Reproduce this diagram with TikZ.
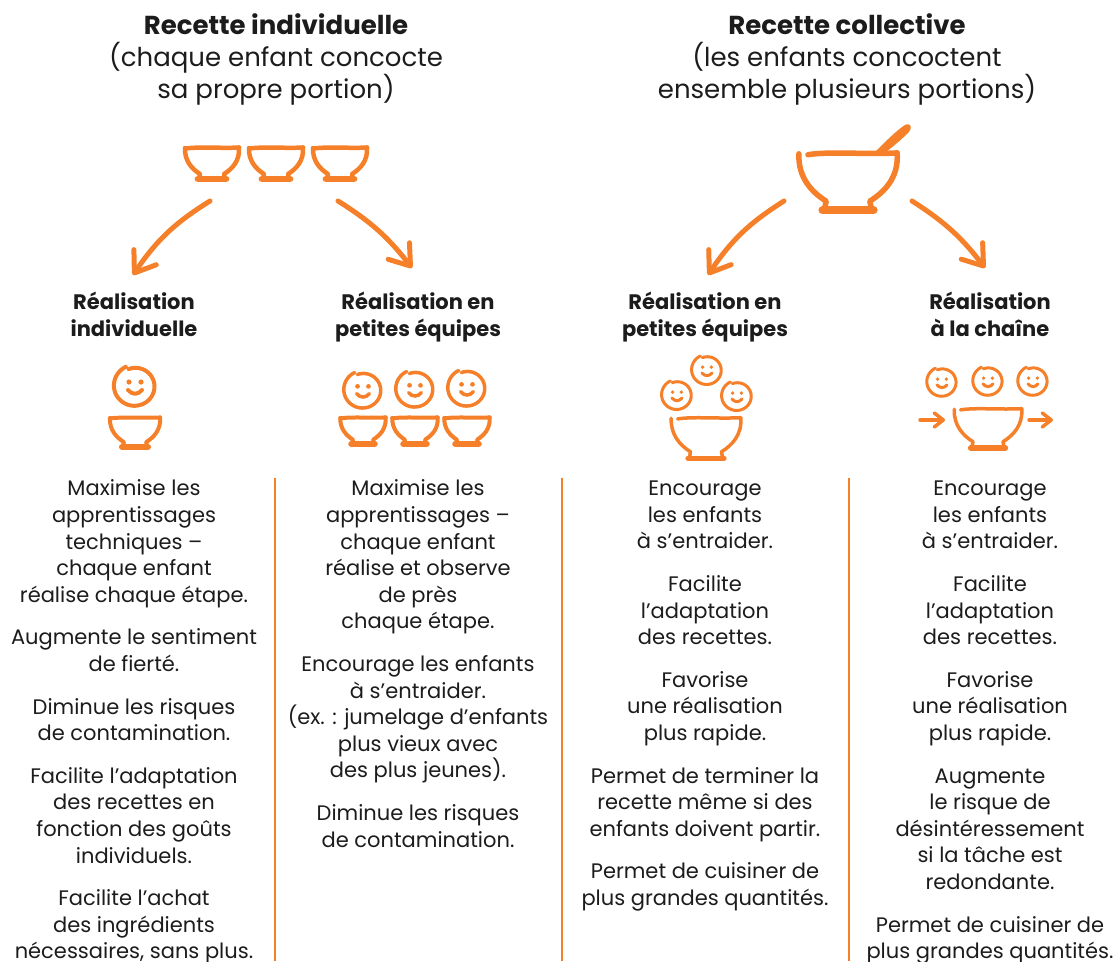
\documentclass[tikz,border=0pt]{standalone}
\usepackage{fontspec}
\usetikzlibrary{arrows.meta}
\setmainfont{Poppins}
\definecolor{corange}{HTML}{F58029}
\definecolor{ctext}{HTML}{1C1C1C}
\tikzstyle{sketch}  = [draw=corange, line cap=round, line join=round, line width=\penw]
\tikzstyle{curved}  = [draw=corange, line cap=round, line width=5pt, -{Straight Barb[length=19pt, width=27pt, line cap=round, round]}]
\tikzstyle{small}   = [draw=corange, line cap=round, line width=3.5pt, -{Straight Barb[length=9pt, width=14pt, line cap=round, round]}]
\tikzstyle{sepline} = [draw=corange, line width=2pt]
\tikzstyle{main}    = [inner sep=0pt, outer sep=0pt, text centered, align=center, text=ctext]
\tikzstyle{title}   = [main, anchor=base, font=\fontsize{26}{32}\selectfont]
\tikzstyle{btitle}  = [main, anchor=base, font=\fontsize{26}{32}\selectfont\bfseries]
\tikzstyle{subhead} = [main, anchor=base, font=\fontsize{21}{26.6}\selectfont\bfseries]
\tikzstyle{body}    = [main, anchor=north, font=\fontsize{21}{26.6}\selectfont]
\newcommand{\penw}{4.5pt}
\newcommand{\rimx}{-27}
\tikzset{
  pen/.code={\renewcommand{\penw}{#1}},
  rim/.code={\renewcommand{\rimx}{#1}},
  pics/bowl/.style={code={
    \draw[sketch] (\rimx,1.5) .. controls (-10,-0.5) and (10,1.5) .. (27,0.5);
    \draw[sketch] (-27,1) .. controls (-27.5,14) and (-20,22) .. (-12,27) -- (-13,32);
    \draw[sketch] (27,0.5) .. controls (28,14) and (20,22) .. (12,27) -- (13,32);
    \draw[sketch, line width=1.5*\penw] (-14,32) -- (14,32);
  }},
  pics/face/.style={code={
    \draw[sketch] plot[domain=250:605, samples=50, smooth] ({(18.5+(\x-250)*0.009)*cos(\x)},{(18+(\x-250)*0.009)*sin(\x)});
    \fill[corange] (-6,-4) circle[radius=2.6];
    \fill[corange] (6,-4) circle[radius=2.6];
    \draw[sketch] (-7,4) .. controls (-3,9) and (3,9) .. (7,4);
  }}
}
\begin{document}
\begin{tikzpicture}[x=1pt, y=-1pt]
  \useasboundingbox (0,0) rectangle (1115,961);

  \draw
    node[btitle] (titleA) at (276,34) {Recette individuelle}
    node[title] (titleAa) at (276,66) {(chaque enfant concocte}
    node[title] (titleAb) at (276,98) {sa propre portion)}
    node[btitle] (titleB) at (847,34) {Recette collective}
    node[title] (titleBa) at (847,66) {(les enfants concoctent}
    node[title] (titleBb) at (847,98) {ensemble plusieurs portions)};

  \draw
    node[subhead] (headA) at (134,336.5) {Réalisation\\individuelle}
    node[subhead] (headB) at (418,336.5) {Réalisation en\\petites équipes}
    node[subhead] (headC) at (705,336.5) {Réalisation en\\petites équipes}
    node[subhead] (headD) at (990,336.5) {Réalisation\\à la chaîne};

  \pic at (212,147) {bowl};
  \pic at (276,147) {bowl};
  \pic at (340,147) {bowl};
  \pic[scale=1.82, pen=5.5pt, rim=-22] at (848,152) {bowl};
  \fill[corange] (875,152) .. controls (885,142) and (897,130) .. (905,125)
    .. controls (911,122) and (913,128) .. (908,133) .. controls (900,141) and (892,147) .. (885,153) -- cycle;

  \coordinate (startA) at (210,201);
  \coordinate (endA) at (133,275);
  \coordinate (startB) at (338,201);
  \coordinate (endB) at (412,268);
  \coordinate (startC) at (784,201);
  \coordinate (endC) at (708,275);
  \coordinate (startD) at (912,201);
  \coordinate (endD) at (985,268);
  \draw[curved] (startA) to[bend right=12] (endA);
  \draw[curved] (startB) to[bend left=10] (endB);
  \draw[curved] (startC) to[bend right=12] (endC);
  \draw[curved] (startD) to[bend left=10] (endD);

  \pic[scale=1, pen=4pt] at (135,386) {face};
  \pic[scale=.93, pen=4pt] at (135,417) {bowl};

  \pic[scale=.91, pen=3.5pt] at (363,390) {face};
  \pic[scale=.91, pen=3.5pt] at (415,389) {face};
  \pic[scale=.91, pen=3.5pt] at (467,388) {face};
  \pic[scale=.84, pen=4pt] at (363,417) {bowl};
  \pic[scale=.84, pen=4pt] at (415,417) {bowl};
  \pic[scale=.84, pen=4pt] at (467,417) {bowl};

  \pic[scale=.73, pen=3pt] at (707,370) {face};
  \pic[scale=.73, pen=3pt] at (677,395) {face};
  \pic[scale=.73, pen=3pt] at (737,396) {face};
  \pic[scale=1.29, pen=3.5pt, rim=-22] at (706,417) {bowl};

  \pic[scale=.72, pen=3pt] at (942,382) {face};
  \pic[scale=.72, pen=3pt] at (988,381) {face};
  \pic[scale=.72, pen=3pt] at (1033,381) {face};
  \pic[scale=1.25, pen=3.5pt, rim=-22] at (988,408) {bowl};
  \coordinate (inL) at (920,420);
  \coordinate (inR) at (945,420);
  \coordinate (outL) at (1029,420);
  \coordinate (outR) at (1053,420);
  \draw[small] (inL) -- (inR);
  \draw[small] (outL) -- (outR);

  \coordinate (sepAa) at (275,478);
  \coordinate (sepAb) at (275,961);
  \coordinate (sepBa) at (562,478);
  \coordinate (sepBb) at (562,961);
  \coordinate (sepCa) at (849,478);
  \coordinate (sepCb) at (849,961);
  \draw[sepline] (sepAa) -- (sepAb);
  \draw[sepline] (sepBa) -- (sepBb);
  \draw[sepline] (sepCa) -- (sepCb);

  \draw
    node[body] (colA) at (134,480) {Maximise les\\apprentissages\\techniques –\\chaque enfant\\réalise chaque étape.\\[16pt]
      Augmente le sentiment\\de fierté.\\[16pt]
      Diminue les risques\\de contamination.\\[16pt]
      Facilite l’adaptation\\des recettes en\\fonction des goûts\\individuels.\\[16pt]
      Facilite l’achat\\des ingrédients\\nécessaires, sans plus.}
    node[body] (colB) at (418,480) {Maximise les\\apprentissages –\\chaque enfant\\réalise et observe\\de près\\chaque étape.\\[16pt]
      Encourage les enfants\\à s’entraider.\\(ex. : jumelage d’enfants\\plus vieux avec\\des plus jeunes).\\[16pt]
      Diminue les risques\\de contamination.}
    node[body] (colC) at (705,481) {Encourage\\les enfants\\à s’entraider.\\[16pt]
      Facilite\\l’adaptation\\des recettes.\\[16pt]
      Favorise\\une réalisation\\plus rapide.\\[16pt]
      Permet de terminer la\\recette même si des\\enfants doivent partir.\\[16pt]
      Permet de cuisiner de\\plus grandes quantités.}
    node[body] (colD) at (990,481) {Encourage\\les enfants\\à s’entraider.\\[16pt]
      Facilite\\l’adaptation\\des recettes.\\[16pt]
      Favorise\\une réalisation\\plus rapide.\\[16pt]
      Augmente\\le risque de\\désintéressement\\si la tâche est\\redondante.\\[16pt]
      Permet de cuisiner de\\plus grandes quantités.};
\end{tikzpicture}
\end{document}
